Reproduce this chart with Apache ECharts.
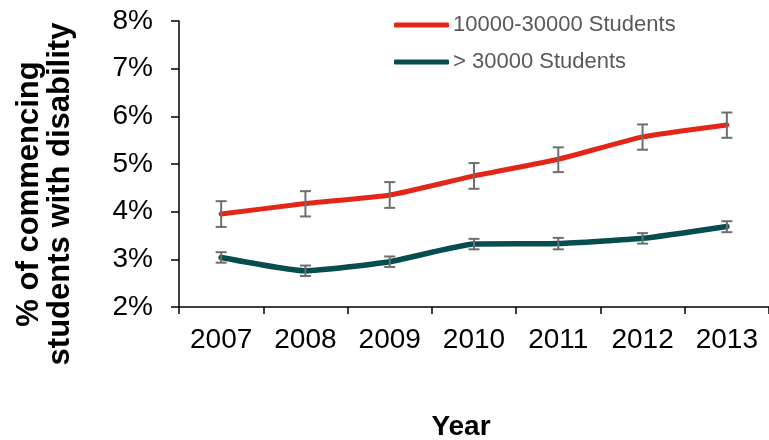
<!DOCTYPE html>
<html lang="en">
<head>
    <meta charset="UTF-8">
    <title>Students with disability</title>
    <script src="https://cdn.jsdelivr.net/npm/echarts@6/dist/echarts.min.js"></script>
    <style>
        * { margin: 0; padding: 0 }
        html, body { height: 100%; background: #fff; }
    </style>
</head>
<body>
    <div id="main" style="width:769px;height:440px"></div>
    <script>
        var years = ['2007', '2008', '2009', '2010', '2011', '2012', '2013'];

        var midValues = [3.95, 4.17, 4.35, 4.75, 5.10, 5.57, 5.82];
        var midLow = [3.68, 3.90, 4.08, 4.48, 4.83, 5.30, 5.55];
        var midHigh = [4.22, 4.43, 4.62, 5.02, 5.35, 5.83, 6.08];

        var bigValues = [3.04, 2.76, 2.95, 3.32, 3.33, 3.44, 3.69];
        var bigLow = [2.93, 2.65, 2.84, 3.21, 3.21, 3.33, 3.57];
        var bigHigh = [3.15, 2.87, 3.06, 3.43, 3.45, 3.55, 3.80];

        var font = '"Liberation Sans", Arial, sans-serif';

        function errData(low, high) {
            return years.map(function (y, i) { return [i, low[i], high[i]]; });
        }

        function errorBars(api) {
            var lo = api.coord([api.value(0), api.value(1)]);
            var hi = api.coord([api.value(0), api.value(2)]);
            var w = 5.5;
            var st = { stroke: '#6e6e6e', lineWidth: 2 };
            return {
                type: 'group',
                children: [
                    { type: 'line', shape: { x1: lo[0], y1: lo[1], x2: hi[0], y2: hi[1] }, style: st },
                    { type: 'line', shape: { x1: lo[0] - w, y1: lo[1], x2: lo[0] + w, y2: lo[1] }, style: st },
                    { type: 'line', shape: { x1: hi[0] - w, y1: hi[1], x2: hi[0] + w, y2: hi[1] }, style: st }
                ]
            };
        }

        var chart = echarts.init(document.getElementById('main'));
        chart.setOption({
            animation: false,
            textStyle: { fontFamily: font },
            grid: { left: 179, right: 0, top: 21, bottom: 133 },
            legend: {
                orient: 'vertical',
                left: 389,
                top: 9,
                itemWidth: 55,
                itemHeight: 5,
                itemGap: 15,
                icon: 'roundRect',
                textStyle: { fontSize: 22, color: '#595959', fontFamily: font, padding: [0, 0, 0, -1] },
                data: ['10000-30000 Students', '> 30000 Students']
            },
            xAxis: {
                type: 'category',
                data: years,
                boundaryGap: true,
                axisLine: { lineStyle: { color: '#000', width: 1.5 } },
                axisTick: { show: true, length: 7, lineStyle: { color: '#000', width: 1.5 } },
                axisLabel: { color: '#000', fontSize: 28, margin: 19, fontFamily: font }
            },
            yAxis: {
                type: 'value',
                min: 2,
                max: 8,
                interval: 1,
                axisLine: { show: true, lineStyle: { color: '#000', width: 1.5 } },
                axisTick: { show: true, length: 8, lineStyle: { color: '#000', width: 1.5 } },
                splitLine: { show: false },
                axisLabel: {
                    color: '#000', fontSize: 28, margin: 26, fontFamily: font,
                    formatter: function (v) { return v + '%'; }
                }
            },
            graphic: [{
                type: 'text',
                x: 45,
                y: 194,
                rotation: Math.PI / 2,
                style: {
                    text: '% of commencing\nstudents with disability',
                    font: 'bold 31px ' + font,
                    fill: '#000',
                    align: 'center',
                    verticalAlign: 'middle',
                    lineHeight: 31
                }
            }, {
                type: 'text',
                x: 461,
                y: 427,
                style: {
                    text: 'Year',
                    font: 'bold 28px ' + font,
                    fill: '#000',
                    align: 'center',
                    verticalAlign: 'middle'
                }
            }],
            series: [{
                name: '10000-30000 Students',
                type: 'line',
                data: midValues,
                smooth: 0.15,
                symbol: 'none',
                color: '#e42618',
                lineStyle: { width: 5, color: '#e42618', cap: 'round' },
                z: 3
            }, {
                name: '> 30000 Students',
                type: 'line',
                data: bigValues,
                smooth: 0.15,
                symbol: 'none',
                color: '#054d4f',
                lineStyle: { width: 5.5, color: '#054d4f', cap: 'round' },
                z: 3
            }, {
                type: 'custom',
                renderItem: function (params, api) { return errorBars(api); },
                data: errData(midLow, midHigh),
                encode: { x: 0, y: [1, 2] },
                z: 4
            }, {
                type: 'custom',
                renderItem: function (params, api) { return errorBars(api); },
                data: errData(bigLow, bigHigh),
                encode: { x: 0, y: [1, 2] },
                z: 4
            }]
        });
    </script>
</body>
</html>
